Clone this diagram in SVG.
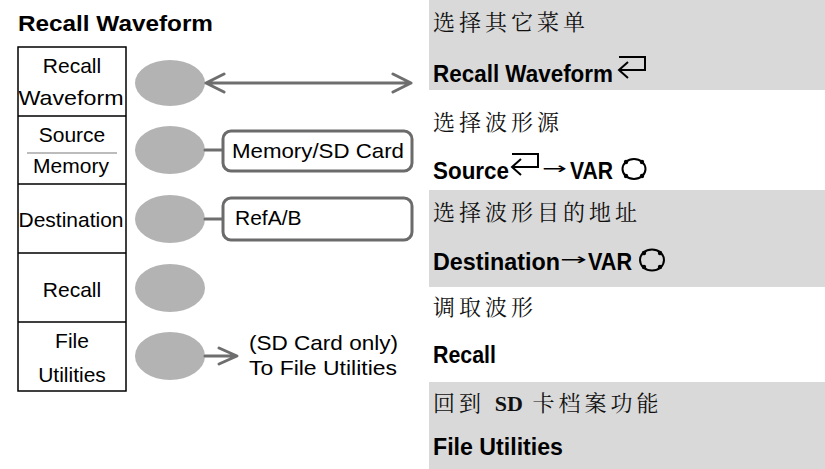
<svg xmlns="http://www.w3.org/2000/svg" width="825" height="469" viewBox="0 0 825 469">
<style>
.lbl{font-family:"Liberation Sans",Arial,sans-serif;font-size:21px;fill:#000}
.ttl{font-family:"Liberation Sans",Arial,sans-serif;font-size:22px;font-weight:bold;fill:#000}
.cjk{font-family:"Noto Serif CJK SC","Noto Sans CJK SC",serif;font-size:22px;letter-spacing:4px;fill:#111}
.cnd{font-family:"Liberation Sans Narrow","Liberation Sans",Arial,sans-serif;font-size:23px;font-weight:bold;fill:#000}
.sym{font-family:"DejaVu Sans",sans-serif;font-size:16px;fill:#000}
.btn{fill:#b3b3b3}
.con{stroke:#6e6e6e;stroke-width:3;fill:none;stroke-linecap:round;stroke-linejoin:round}
.opt{fill:#fff;stroke:#6b6b6b;stroke-width:3}
.ico{stroke:#000;stroke-width:2;fill:none;stroke-linejoin:miter}
.band{fill:#d9d9d9}
</style>
<rect width="825" height="469" fill="#fff"/>
<g id="title"><text class="ttl" x="18" y="31" textLength="195" lengthAdjust="spacingAndGlyphs">Recall Waveform</text></g>
<g id="menu">
<rect x="18" y="47" width="108" height="344" fill="#fff" stroke="#000" stroke-width="1.5"/>
<path d="M18,116H126M18,184H126M18,253H126M18,322H126" stroke="#000" stroke-width="1.5"/>
</g>
<g id="menu-recall-waveform"><text class="lbl" x="72" y="73" text-anchor="middle">Recall</text><text class="lbl" x="71" y="105" text-anchor="middle" textLength="105" lengthAdjust="spacingAndGlyphs">Waveform</text></g>
<g id="menu-source"><text class="lbl" x="72" y="142" text-anchor="middle">Source</text><line x1="27" y1="153" x2="117" y2="153" stroke="#a6a6a6" stroke-width="1.5"/><text class="lbl" x="71" y="173" text-anchor="middle">Memory</text></g>
<g id="menu-destination"><text class="lbl" x="71" y="227" text-anchor="middle" textLength="105" lengthAdjust="spacingAndGlyphs">Destination</text></g>
<g id="menu-recall"><text class="lbl" x="72" y="297" text-anchor="middle">Recall</text></g>
<g id="menu-file"><text class="lbl" x="72" y="348" text-anchor="middle">File</text><text class="lbl" x="72" y="382" text-anchor="middle">Utilities</text></g>
<g id="buttons">
<ellipse id="btn1" class="btn" cx="170" cy="83" rx="35" ry="23"/>
<ellipse id="btn2" class="btn" cx="170" cy="150" rx="35" ry="24"/>
<ellipse id="btn3" class="btn" cx="170" cy="219" rx="35" ry="24"/>
<ellipse id="btn4" class="btn" cx="170" cy="288" rx="35" ry="24"/>
<ellipse id="btn5" class="btn" cx="170" cy="356" rx="35" ry="24"/>
</g>
<g id="connectors">
<path class="con" d="M206,83H411M224,74L206,83L224,92M393,74L411,83L393,92"/>
<path class="con" d="M205,150H223"/>
<path class="con" d="M205,219H223"/>
<path class="con" d="M205,356H236M219,348L237,356L219,364"/>
</g>
<g id="opt-source"><rect class="opt" x="223" y="131" width="189" height="40" rx="8"/><text class="lbl" x="232" y="158" textLength="172" lengthAdjust="spacingAndGlyphs">Memory/SD Card</text></g>
<g id="opt-dest"><rect class="opt" x="223" y="198" width="189" height="42" rx="8"/><text class="lbl" x="235" y="225">RefA/B</text></g>
<g id="opt-file"><text class="lbl" x="249" y="350" textLength="149" lengthAdjust="spacingAndGlyphs">(SD Card only)</text><text class="lbl" x="249" y="375" textLength="148" lengthAdjust="spacingAndGlyphs">To File Utilities</text></g>
<g id="panel">
<rect class="band" x="429" y="0" width="396" height="90"/>
<rect class="band" x="429" y="190" width="396" height="97"/>
<rect class="band" x="429" y="382" width="396" height="87"/>
<text class="cjk" x="433" y="30">选择其它菜单</text>
<text class="cnd" x="433" y="82" textLength="180" lengthAdjust="spacingAndGlyphs">Recall Waveform</text>
<path class="ico" d="M619,70H645V57H619M628,62L619,70L628,78"/>
<text class="cjk" x="433" y="130">选择波形源</text>
<text class="cnd" x="433" y="179" textLength="76" lengthAdjust="spacingAndGlyphs">Source</text>
<path class="ico" d="M512,167H538V154H512M521,159L512,167L521,175"/>
<text class="sym" x="542" y="174" textLength="25" lengthAdjust="spacingAndGlyphs">→</text>
<text class="cnd" x="570" y="179" textLength="43" lengthAdjust="spacingAndGlyphs">VAR</text>
<g><ellipse class="ico" cx="634" cy="169" rx="11.5" ry="10"/><circle cx="626" cy="162" r="2.2"/><circle cx="642" cy="162" r="2.2"/><circle cx="626" cy="176" r="2.2"/><circle cx="642" cy="176" r="2.2"/></g>
<text class="cjk" x="433" y="220">选择波形目的地址</text>
<text class="cnd" x="433" y="270" textLength="127" lengthAdjust="spacingAndGlyphs">Destination</text>
<text class="sym" x="560" y="265" textLength="27" lengthAdjust="spacingAndGlyphs">→</text>
<text class="cnd" x="588" y="270" textLength="44" lengthAdjust="spacingAndGlyphs">VAR</text>
<g><ellipse class="ico" cx="652" cy="260" rx="12" ry="10.5"/><circle cx="644" cy="253" r="2.2"/><circle cx="660" cy="253" r="2.2"/><circle cx="644" cy="267" r="2.2"/><circle cx="660" cy="267" r="2.2"/></g>
<text class="cjk" x="433" y="315">调取波形</text>
<text class="cnd" x="433" y="363" textLength="63" lengthAdjust="spacingAndGlyphs">Recall</text>
<text class="cjk" x="433" y="411">回到 <tspan style="font-family:'Liberation Serif','Times New Roman',serif;font-weight:bold;letter-spacing:0">SD</tspan> 卡档案功能</text>
<text class="cnd" x="433" y="455" textLength="130" lengthAdjust="spacingAndGlyphs">File Utilities</text>
</g>
</svg>
